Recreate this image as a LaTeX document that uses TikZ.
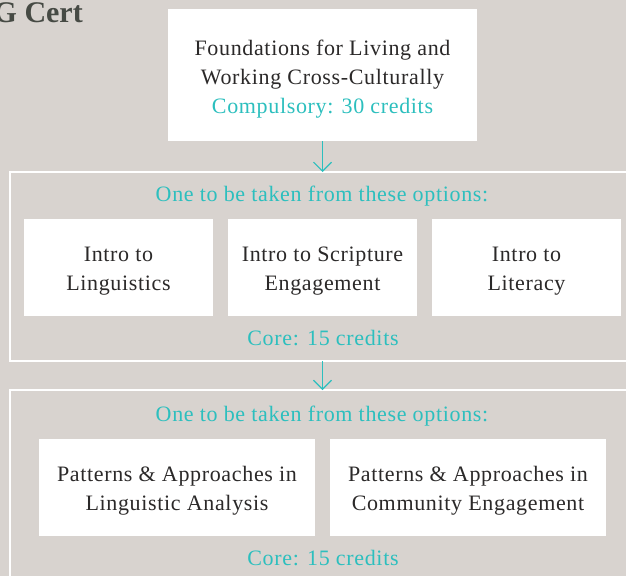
\documentclass[tikz,border=0pt]{standalone}
\usepackage{fontspec}
\setmainfont{Liberation Serif}
\newfontfamily\bodyfont[LetterSpace=3]{Liberation Serif}
\usetikzlibrary{arrows.meta}
\definecolor{paper}{HTML}{D8D3CF}
\definecolor{creditteal}{HTML}{2CBFBE}
\definecolor{ink}{HTML}{2B2929}
\definecolor{titleink}{HTML}{464A44}

\tikzset{
  course/.style={fill=white, text=ink, align=center, inner sep=0pt, outer sep=0pt,
    font=\bodyfont\fontsize{22}{29}\selectfont,
    execute at begin node={\rule[-5pt]{0pt}{55pt}}},
  stage/.style={draw=white, line width=2.5pt, inner sep=0pt, outer sep=0pt},
  note/.style={text=creditteal, inner sep=0pt, anchor=base, font=\bodyfont\fontsize{22}{29}\selectfont},
  flow/.style={creditteal, line width=1.1pt, -{Straight Barb[length=9pt,width=18pt]}}
}

\begin{document}
\begin{tikzpicture}[x=1pt,y=-1pt]
  \useasboundingbox (0,0) rectangle (626,576);
  \clip (0,0) rectangle (626,576);
  \fill[paper] (0,0) rectangle (626,576);

  % title, cut off at the left
  \node[anchor=base east, inner sep=0pt, text=titleink, font=\bfseries\fontsize{30}{32}\selectfont] (title) at (83,22) {G Cert};

  % compulsory module
  \node[course, minimum width=309pt, minimum height=132pt,
    execute at begin node={\rule[-5pt]{0pt}{86pt}}] (found) at (322.5,75)
    {Foundations for Living and\\Working Cross-Culturally\\\textcolor{creditteal}{Compulsory: 30 credits}};

  % first core block
  \node[stage, minimum width=690pt, minimum height=189pt] (core1) at (355,266.5) {};
  \node[note] (pick1) at (322,201) {One to be taken from these options:};
  \node[course, minimum width=189pt, minimum height=97pt] (ling) at (118.5,267.5) {Intro to\\Linguistics};
  \node[course, minimum width=189pt, minimum height=97pt] (scrip) at (322.5,267.5) {Intro to Scripture\\Engagement};
  \node[course, minimum width=189pt, minimum height=97pt] (lit) at (526.5,267.5) {Intro to\\Literacy};
  \node[note] (credit1) at (323,345) {Core: 15 credits};

  % second core block
  \node[stage, minimum width=690pt, minimum height=410pt] (core2) at (355,595) {};
  \node[note] (pick2) at (322,421) {One to be taken from these options:};
  \node[course, minimum width=276pt, minimum height=97pt] (pla) at (177,487.5) {Patterns \& Approaches in\\Linguistic Analysis};
  \node[course, minimum width=276pt, minimum height=97pt] (pce) at (468,487.5) {Patterns \& Approaches in\\Community Engagement};
  \node[note] (credit2) at (323,565) {Core: 15 credits};

  \draw[flow] (found.south) -- (found.south |- core1.north);
  \draw[flow] (core1.south -| found.south) -- (core2.north -| found.south);
\end{tikzpicture}
\end{document}
